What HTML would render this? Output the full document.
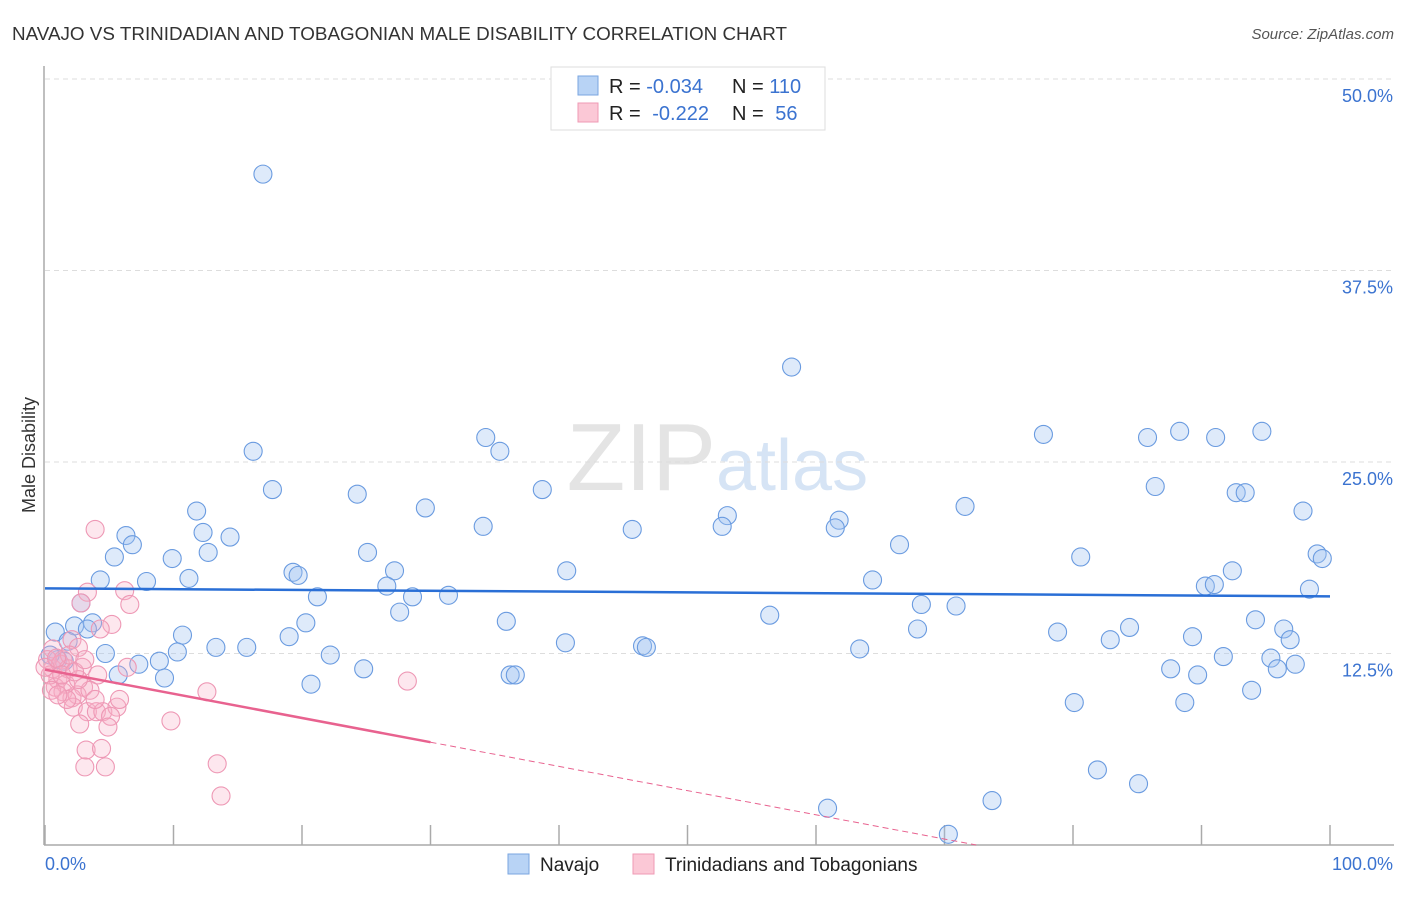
<!DOCTYPE html>
<html><head><meta charset="utf-8"><style>
body{margin:0;background:#fff;font-family:"Liberation Sans",sans-serif;}
svg text{font-family:"Liberation Sans",sans-serif;}
</style></head><body>
<svg id="chart" width="1406" height="892" xmlns="http://www.w3.org/2000/svg">
<text x="12" y="40" font-size="18" fill="#333" textLength="775" lengthAdjust="spacingAndGlyphs">NAVAJO VS TRINIDADIAN AND TOBAGONIAN MALE DISABILITY CORRELATION CHART</text>
<text x="1394" y="39" font-size="15" fill="#555" font-style="italic" text-anchor="end">Source: ZipAtlas.com</text>
<text x="35" y="455" font-size="18" fill="#333" transform="rotate(-90 35 455)" text-anchor="middle">Male Disability</text>
<text x="716" y="490" font-size="96" fill="#e4e4e4" text-anchor="end" font-family="Liberation Serif">ZIP</text>
<text x="716" y="490" font-size="72" fill="#d6e4f5">atlas</text>
<g id="grid"></g><g id="axes"></g><g id="pts"></g><g id="trends"></g>
<g>
<rect x="551" y="67" width="274" height="63" fill="#fff" stroke="#ddd"/>
<rect x="578" y="76" width="20" height="19" fill="#b8d3f5" stroke="#7aa6e0"/>
<rect x="578" y="103" width="20" height="19" fill="#fbc8d6" stroke="#ef9ab4"/>
<text x="609" y="93" font-size="20" fill="#222">R = <tspan fill="#3b73d0">-0.034</tspan></text>
<text x="732" y="93" font-size="20" fill="#222">N = <tspan fill="#3b73d0">110</tspan></text>
<text x="609" y="120" font-size="20" fill="#222">R = <tspan fill="#3b73d0" dx="6">-0.222</tspan></text>
<text x="732" y="120" font-size="20" fill="#222">N = <tspan fill="#3b73d0" dx="6">56</tspan></text>
</g>
<g>
<rect x="508" y="854" width="21" height="20" fill="#b8d3f5" stroke="#7aa6e0"/>
<text x="540" y="871" font-size="19" fill="#222">Navajo</text>
<rect x="633" y="854" width="21" height="20" fill="#fbc8d6" stroke="#ef9ab4"/>
<text x="665" y="871" font-size="19" fill="#222">Trinidadians and Tobagonians</text>
</g>
</svg>
<script>
const yTicks=[12.5,25,37.5,50];
const yTickLabels=["12.5%","25.0%","37.5%","50.0%"];
const xTicks=[0,10,20,30,40,50,60,70,80,90,100];
const navajoX=[16.96,58.1,34.3,35.4,16.2,77.7,85.8,88.3,91.1,94.7,17.7,24.3,38.7,86.4,92.7,93.4,11.8,29.6,71.6,97.9,53.1,61.8,52.7,61.5,34.1,45.7,6.3,12.3,14.4,6.8,12.7,5.4,9.9,25.1,66.5,80.6,99.0,99.4,19.3,19.7,27.2,40.6,92.4,4.3,7.9,11.2,26.6,64.4,90.3,91.0,21.2,28.6,31.4,98.4,2.8,27.6,68.2,70.9,56.4,35.9,20.3,94.2,3.7,2.3,0.8,3.3,10.7,19.0,67.9,78.8,84.4,96.4,89.3,96.9,82.9,40.5,46.5,46.8,13.3,15.7,10.3,22.2,63.4,4.7,91.7,95.4,7.3,8.9,24.8,87.6,95.9,97.3,5.7,9.3,36.2,36.6,89.7,20.7,93.9,80.1,88.7,81.9,85.1,60.9,73.7,70.3,1.0,1.5,0.4,1.8];
const navajoY=[43.79,31.2,26.6,25.7,25.7,26.8,26.6,27.0,26.6,27.0,23.2,22.9,23.2,23.4,23.0,23.0,21.8,22.0,22.1,21.8,21.5,21.2,20.8,20.7,20.8,20.6,20.2,20.4,20.1,19.6,19.1,18.8,18.7,19.1,19.6,18.8,19.0,18.7,17.8,17.6,17.9,17.9,17.9,17.3,17.2,17.4,16.9,17.3,16.9,17.0,16.2,16.2,16.3,16.7,15.8,15.2,15.7,15.6,15.0,14.6,14.5,14.7,14.5,14.3,13.9,14.1,13.7,13.6,14.1,13.9,14.2,14.1,13.6,13.4,13.4,13.2,13.0,12.9,12.9,12.9,12.6,12.4,12.8,12.5,12.3,12.2,11.8,12.0,11.5,11.5,11.5,11.8,11.1,10.9,11.1,11.1,11.1,10.5,10.1,9.3,9.3,4.9,4.0,2.4,2.9,0.7,12.1,12.0,12.4,13.3];
const trinX=[3.9,28.2,3.3,6.2,2.8,6.6,5.2,4.3,2.1,2.6,0.6,1.4,2.9,4.1,6.4,0.6,1.0,0.8,3.0,1.4,2.1,2.5,2.2,3.3,4.0,4.5,5.6,5.1,4.9,2.7,3.2,4.4,3.1,4.7,9.8,12.6,13.4,13.7,0.2,0.4,1.2,1.8,0,1.9,1.6,3.5,2.6,0.9,1.3,2.3,0.5,3.1,3.9,1.7,1.0,5.8];
const trinY=[20.6,10.7,16.5,16.6,15.8,15.7,14.4,14.1,13.4,12.9,12.8,12.1,11.6,11.1,11.6,11.5,10.8,10.3,10.3,10.0,9.6,9.8,9.0,8.7,8.7,8.7,9.0,8.4,7.7,7.9,6.2,6.3,5.1,5.1,8.1,10.0,5.3,3.2,12.1,11.1,11.8,11.5,11.6,12.4,10.5,10.1,10.8,12.2,11.1,11.3,10.1,12.1,9.5,9.5,9.8,9.5];
const navajoTrend=[16.75,16.23];
const trinTrend=[11.45,-0.158];
const NS="http://www.w3.org/2000/svg";
const X0=45,X1=1330,Y0=845,Y50=79;
const sx=v=>X0+(X1-X0)*v/100;
const sy=v=>Y0-(Y0-Y50)*v/50;
function mk(tag,at,parent){const e=document.createElementNS(NS,tag);for(const k in at)e.setAttribute(k,at[k]);parent.appendChild(e);return e;}
const grid=document.getElementById('grid'),axes=document.getElementById('axes'),pts=document.getElementById('pts'),tr=document.getElementById('trends');
yTicks.forEach((t,i)=>{
 const l=mk('line',{x1:45,x2:1394,y1:sy(t),y2:sy(t),stroke:'#ddd','stroke-dasharray':'5,4'},grid);
 
 
 const tx=mk('text',{x:1393,y:sy(t)+23,'font-size':18,fill:'#3b73d0','text-anchor':'end'},grid);
 tx.textContent=yTickLabels[i];
 
 
});
let a=mk('line',{x1:44,x2:44,y1:66,y2:845,stroke:'#aaa','stroke-width':1.5},axes);


a=mk('line',{x1:44,x2:1394,y1:845,y2:845,stroke:'#aaa','stroke-width':1.5},axes);


xTicks.forEach(t=>{
 const l=mk('line',{x1:sx(t),x2:sx(t),y1:825,y2:845,stroke:'#aaa','stroke-width':1.5},axes);
 
 
});
let t0=mk('text',{x:45,y:870,'font-size':18,fill:'#3b73d0'},axes);t0.textContent='0.0%';


let t1=mk('text',{x:1393,y:870,'font-size':18,fill:'#3b73d0','text-anchor':'end'},axes);t1.textContent='100.0%';


navajoX.forEach((v,i)=>{
 const c=mk('circle',{cx:sx(v),cy:sy(navajoY[i]),r:9,fill:'rgba(160,196,240,0.35)',stroke:'#6a9be0','stroke-width':1.1},pts);
 
 
});
trinX.forEach((v,i)=>{
 const c=mk('circle',{cx:sx(v),cy:sy(trinY[i]),r:9,fill:'rgba(248,176,200,0.3)',stroke:'#ee98b5','stroke-width':1.1},pts);
 
 
});
let ln=mk('line',{x1:sx(0),y1:sy(navajoTrend[0]),x2:sx(100),y2:sy(navajoTrend[1]),stroke:'#2a6fd6','stroke-width':2.5},tr);


const xe=-trinTrend[0]/trinTrend[1];
ln=mk('line',{x1:sx(0),y1:sy(trinTrend[0]),x2:sx(30),y2:sy(trinTrend[0]+trinTrend[1]*30),stroke:'#e8628f','stroke-width':2.5},tr);


ln=mk('line',{x1:sx(30),y1:sy(trinTrend[0]+trinTrend[1]*30),x2:sx(xe),y2:sy(0),stroke:'#e8628f','stroke-width':1,'stroke-dasharray':'6,4'},tr);


</script>
</body></html>
